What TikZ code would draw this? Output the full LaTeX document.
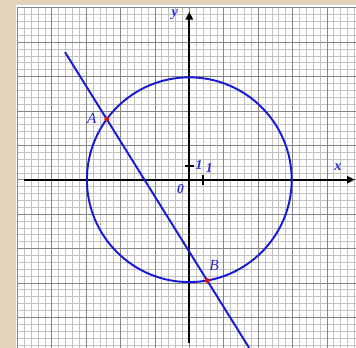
\documentclass[tikz,border=0pt]{standalone}
\usepackage{fontspec}
\setmainfont{Liberation Serif}
\usetikzlibrary{arrows.meta,calc}
\definecolor{paperTan}{HTML}{E2D4B8}
\definecolor{gridMinor}{HTML}{C2C2C2}
\definecolor{gridMajor}{HTML}{858585}
\definecolor{curveBlue}{HTML}{1818D8}
\definecolor{labelBlue}{HTML}{2A2ACF}
\definecolor{pointRed}{HTML}{E01010}

\begin{document}
\begin{tikzpicture}[x=0.5cm, y=0.5cm,
  axis/.style={line width=2.4pt, -{Triangle[length=8pt,width=7.5pt]}},
  tickmark/.style={line width=2.6pt},
  curve/.style={curveBlue, line width=2pt},
  lbl/.style={labelBlue, font=\fontsize{14}{14}\selectfont\bfseries\itshape, inner sep=0pt},
  ptlbl/.style={labelBlue, font=\fontsize{16}{16}\selectfont\itshape, inner sep=0pt},
  dot/.style={circle, fill=pointRed, inner sep=0pt, minimum size=5pt}]
  % Paper and sheet
  \clip (-13.757,-12.23) rectangle (12.115,13.06);
  \fill[paperTan] (-13.757,-12.23) rectangle (12.115,13.06);
  \filldraw[fill=white, draw=black!15] (-12.667,-12.5) rectangle (12.4,12.77);

  % Grid
  \draw[gridMinor, line width=0.6pt, step=0.5] (-12.5,-12.23) grid (12.115,12.5);
  \draw[gridMajor, line width=0.8pt, step=2.5] (-12.5,-12.23) grid (12.115,12.5);

  % Axes
  \coordinate (O) at (0,0);
  \draw[axis] (-12,0) -- (12.03,0);
  \draw[axis] (0,-11.85) -- (0,12.2);
  \draw[tickmark] (1,-0.36) -- (1,0.36);
  \draw[tickmark] (-0.31,1) -- (0.35,1);
  \node[lbl] (labOne) at (0.7,1.07) {1};
  \node[lbl] (labOneX) at (1.45,0.83) {1};
  \node[lbl] (labZero) at (-0.63,-0.7) {0};
  \node[lbl, font=\fontsize{15}{15}\selectfont\bfseries\itshape] (labY) at (-1.05,11.97) {y};
  \node[lbl, font=\fontsize{15}{15}\selectfont\bfseries\itshape] (labX) at (10.8,0.92) {x};

  % Circle and line
  \draw[curve] (O) circle[radius=7.44];
  \coordinate (A) at (-6,4.4);
  \coordinate (B) at (1.3,-7.325);
  \draw[curve] ($(A)!-0.415!(B)$) -- ($(A)!1.418!(B)$);

  % Points
  \node[dot] (dotA) at (A) {};
  \node[dot] (dotB) at (B) {};
  \node[ptlbl] (labA) at (-7.09,4.46) {A};
  \node[ptlbl] (labB) at (1.8,-6.25) {B};
\end{tikzpicture}
\end{document}
